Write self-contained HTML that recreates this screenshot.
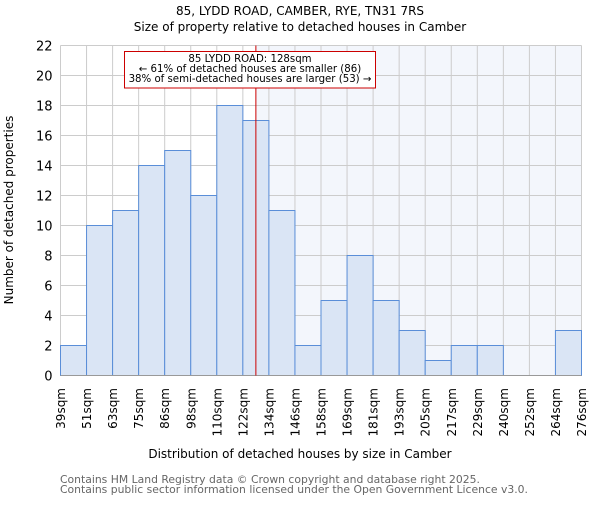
<!DOCTYPE html>
<html><head><meta charset="utf-8"><style>
body{margin:0;background:#fff;}
svg text{font-family:"DejaVu Sans","Liberation Sans",sans-serif;}
</style></head><body>
<svg id="c" width="600" height="500" xmlns="http://www.w3.org/2000/svg">
<text x="300" y="15" font-size="12" text-anchor="middle">85, LYDD ROAD, CAMBER, RYE, TN31 7RS</text>
<text x="300" y="31" font-size="12" text-anchor="middle">Size of property relative to detached houses in Camber</text>
<g id="plot"></g>
<text x="300" y="458" font-size="12" text-anchor="middle">Distribution of detached houses by size in Camber</text>
<text transform="translate(13,210) rotate(-90)" font-size="12" text-anchor="middle">Number of detached properties</text>
<text x="60" y="483" font-size="10.8" fill="#666">Contains HM Land Registry data © Crown copyright and database right 2025.</text>
<text x="60" y="493" font-size="10.8" fill="#666">Contains public sector information licensed under the Open Government Licence v3.0.</text>
</svg>
<script>
const categories=["39sqm","51sqm","63sqm","75sqm","86sqm","98sqm","110sqm","122sqm","134sqm","146sqm","158sqm","169sqm","181sqm","193sqm","205sqm","217sqm","229sqm","240sqm","252sqm","264sqm","276sqm"];
const counts=[2,10,11,14,15,12,18,17,11,2,5,8,5,3,1,2,2,0,0,3];
const yTicks=[0,2,4,6,8,10,12,14,16,18,20,22];
const markerBin=7.5;
const NS="http://www.w3.org/2000/svg";
const g=document.getElementById('plot');
const X0=60.5,X1=581.5,Y0=375.5,Y1=45.5,YMAX=22;
const n=counts.length,bw=(X1-X0)/n;
const xs=i=>X0+i*bw;
const ys=v=>Y0-(v/YMAX)*(Y0-Y1);
function el(t,a,p){const e=document.createElementNS(NS,t);for(const k in a)e.setAttribute(k,a[k]);(p||g).appendChild(e);return e;}
const mx=xs(markerBin);
const hl=el('rect',{x:mx,y:Y1,width:X1-mx,height:Y0-Y1,fill:'#f3f6fc'});


for(let i=0;i<=n;i++){const l=el('line',{x1:xs(i),x2:xs(i),y1:Y1,y2:Y0,stroke:'#ccc','stroke-width':1});

}
yTicks.forEach(v=>{const l=el('line',{x1:X0,x2:X1,y1:ys(v),y2:ys(v),stroke:'#ccc','stroke-width':1});


const t=el('text',{x:X0-8,y:ys(v)+5,'font-size':13,'text-anchor':'end'});t.textContent=v;

});
counts.forEach((c,i)=>{if(c<=0)return;const r=el('rect',{x:xs(i),y:ys(c),width:bw,height:Y0-ys(c),fill:'#dae5f5',stroke:'#5a8ed8','stroke-width':1});

});
categories.forEach((c,i)=>{const x=xs(i);const t=el('text',{transform:`translate(${x+4.5},388) rotate(-90)`,'font-size':12,'text-anchor':'end'});t.textContent=c;

});
const ax=el('line',{x1:X0,x2:X1,y1:Y0,y2:Y0,stroke:'#999','stroke-width':1});


const ml=el('line',{x1:mx,x2:mx,y1:Y1,y2:Y0,stroke:'#c00','stroke-width':1});


const box=el('rect',{x:124.5,y:51.5,width:251,height:36.5,fill:'#fff',stroke:'#c00','stroke-width':1});


["85 LYDD ROAD: 128sqm","← 61% of detached houses are smaller (86)","38% of semi-detached houses are larger (53) →"].forEach((s,i)=>{const t=el('text',{x:250,y:62+i*10,'font-size':10.2,'text-anchor':'middle'});t.textContent=s;

});
</script>
</body></html>
